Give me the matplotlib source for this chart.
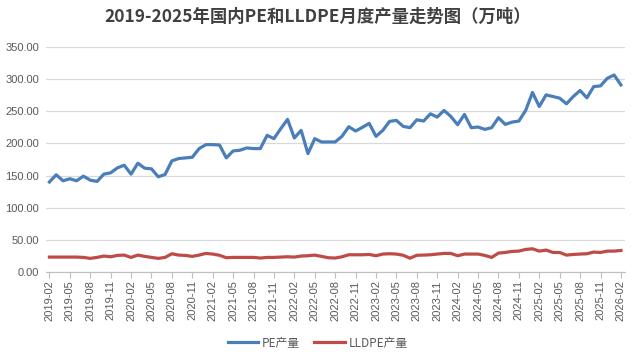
import matplotlib
matplotlib.use("Agg")
import matplotlib.pyplot as plt
import numpy as np
import pandas as pd

plt.rcParams['font.family'] = ['Noto Sans CJK SC', 'DejaVu Sans']

months = pd.date_range('2019-02-01', '2026-02-01', freq='MS').strftime('%Y-%m').tolist()

pe = [140, 151.2, 141.9, 145, 141.9, 149.1, 142.9, 140.9, 152.2, 154.3,
      162, 166.1, 152.2, 169.2, 161.5, 160.5, 148.1, 151.7, 172.9, 176.5,
      177.5, 178.5, 191.9, 198.1, 198.1, 197.6, 177.5, 188.3, 189.4, 193,
      192, 192, 212.6, 207.4, 222.9, 237.4, 208.5, 220.3, 184.2, 207.4,
      202.3, 202.3, 202.3, 211, 226, 219.3, 225, 231.2, 211, 220.3,
      234.3, 235.8, 226.5, 224.5, 236.8, 234.8, 246.1, 241, 251.3, 242,
      229.1, 245.1, 224.5, 225.5, 221.9, 224.5, 240, 229.6, 233.2, 234.8,
      251.3, 279.2, 257.5, 275.5, 273, 270.4, 261.6, 273, 282.3, 270.9,
      288.4, 289.5, 301.3, 306.5, 291]

lldpe = [23.2, 23.2, 23.2, 23.2, 23.2, 22.7, 21.2, 22.7, 24.8, 23.7,
         25.8, 26.3, 22.7, 26.3, 24.3, 22.7, 21.2, 22.7, 28.4, 26.3,
         25.8, 24.3, 26.3, 28.9, 27.9, 26.0, 22.2, 22.7, 22.7, 22.7,
         22.7, 21.7, 22.7, 22.7, 23.2, 23.7, 23.2, 24.8, 25.3, 26.3,
         24.3, 22.2, 21.7, 23.7, 26.8, 26.8, 26.8, 27.3, 25.3, 27.9,
         28.4, 27.9, 26.0, 21.5, 26.0, 26.3, 26.8, 27.9, 28.9, 28.9,
         25.3, 27.9, 27.9, 27.9, 25.8, 22.7, 29.4, 30.4, 32.0, 32.5,
         35.1, 36.1, 32.5, 34.1, 30.4, 30.4, 26.3, 27.3, 27.9, 28.4,
         31.0, 30.4, 32.5, 32.5, 33.5]

title = '2019-2025年国内PE和LLDPE月度产量走势图（万吨）'
yticks = [0, 50, 100, 150, 200, 250, 300, 350]

fig = plt.figure(figsize=(6.35, 3.56), dpi=100)
ax = fig.add_axes([46/635, 1-272/356, (625-46)/635, (272-47)/356])

x = np.arange(len(months))
ax.plot(x, pe, color='#4A7EBB', lw=2.3, label='PE产量', solid_joinstyle='round')
ax.plot(x, lldpe, color='#BE4B48', lw=2.3, label='LLDPE产量', solid_joinstyle='round')

ax.set_ylim(0, 350)
ax.set_xlim(-0.5, len(months) - 0.4)
ax.set_yticks(yticks)
ax.set_yticklabels([f'{v:.2f}' for v in yticks], fontsize=8, color='#595959',
                   family=['Liberation Sans', 'DejaVu Sans'])
ax.yaxis.grid(True, color='#D9D9D9', lw=0.9)
ax.set_axisbelow(True)
ax.tick_params(axis='y', length=0, pad=5)

xt = x[::3]
ax.set_xticks(xt)
ax.set_xticklabels([months[i] for i in xt], rotation=90, fontsize=8, color='#595959',
                   family=['Liberation Sans', 'DejaVu Sans'])
ax.tick_params(axis='x', length=4, color='#BFBFBF', pad=2)

for s in ['top', 'right', 'left']:
    ax.spines[s].set_visible(False)
ax.spines['bottom'].set_color('#BFBFBF')

fig.text(0.5, 1-17/356, title, ha='center', va='center', fontsize=12.5,
         fontweight='bold', color='#404040')

leg = fig.legend(loc='center', bbox_to_anchor=(0.5, 1-343/356), ncol=2, frameon=False,
                 fontsize=8.5, handlelength=2.6, columnspacing=1.2, handletextpad=0.3)
for t in leg.get_texts():
    t.set_color('#595959')

fig.savefig('out.png', dpi=100)
